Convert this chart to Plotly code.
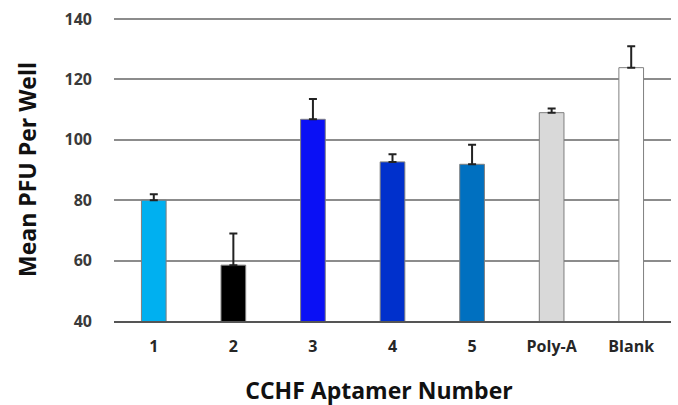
import plotly.graph_objects as go

categories = ["1", "2", "3", "4", "5", "Poly-A", "Blank"]
means = [80, 58.5, 106.8, 92.7, 91.9, 109, 123.9]
err_plus = [2, 10.5, 6.7, 2.5, 6.5, 1.4, 7.1]
colors = ["#00B0F0", "#000000", "#0A10F5", "#0030CC", "#0070C0", "#D9D9D9", "#FFFFFF"]
y_ticks = [40, 60, 80, 100, 120, 140]

fig = go.Figure()
fig.add_trace(go.Bar(
    x=categories, y=means,
    marker=dict(color=colors, line=dict(color="#7F7F7F", width=1)),
    width=0.31,
    error_y=dict(type="data", array=err_plus, arrayminus=[0]*len(means),
                 symmetric=False, color="#222222", thickness=2, width=4),
))

fig.update_layout(
    width=678, height=405,
    margin=dict(l=114, r=7, t=18, b=84, autoexpand=False),
    paper_bgcolor="white", plot_bgcolor="white",
    showlegend=False,
    title=dict(text="<b>CCHF Aptamer Number</b>", xref="container", yref="container",
               x=379 / 678, y=1 - 391 / 405, xanchor="center", yanchor="middle",
               font=dict(family="Open Sans", size=23, color="#111111")),
    xaxis=dict(
        showline=True, linecolor="#555555", linewidth=2,
        ticks="", showgrid=False,
        tickfont=dict(family="Open Sans", size=16, color="#262626", weight="bold"),
        ticklabelstandoff=10,
    ),
    yaxis=dict(
        range=[40, 140.35], tickvals=y_ticks,
        showgrid=True, gridcolor="#8C8C8C", gridwidth=1.5,
        zeroline=False, showline=False, ticks="",
        tickfont=dict(family="Open Sans", size=16, color="#3A3A3A", weight="bold"),
        ticklabelstandoff=21,
        title=dict(text="<b>Mean PFU Per Well</b>", standoff=21,
                   font=dict(family="Open Sans", size=23, color="#111111")),
    ),
)

fig.write_html("out.html", config={"displayModeBar": False},
               post_script="document.body.style.margin='0';")
